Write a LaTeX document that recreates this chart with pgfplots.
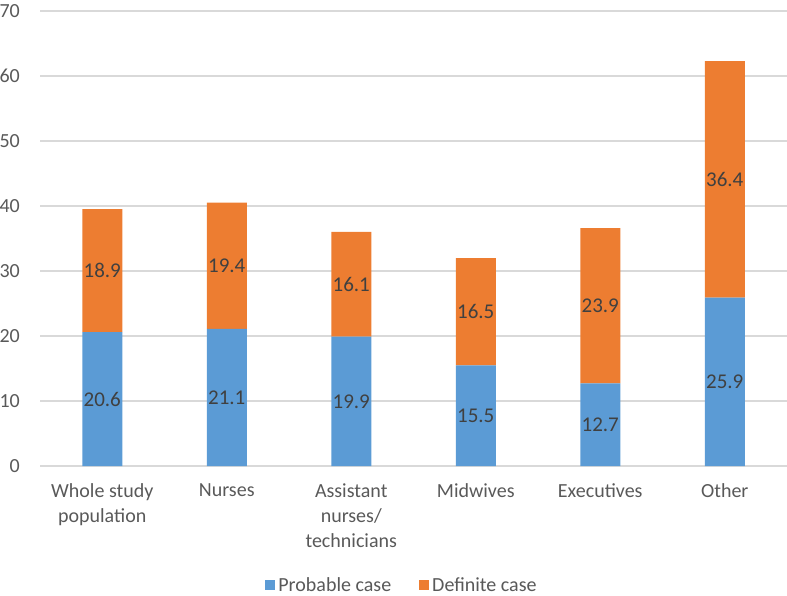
\documentclass[border=0pt]{standalone}
\usepackage{pgfplots}
\pgfplotsset{compat=1.18}
\usepackage{fontspec}
\setmainfont{Carlito}
\definecolor{barblue}{HTML}{5B9BD5}
\definecolor{barorange}{HTML}{ED7D31}
\definecolor{gridgray}{HTML}{D9D9D9}
\definecolor{txtgray}{HTML}{595959}
\definecolor{lblgray}{HTML}{404040}
\begin{document}
\begin{tikzpicture}
\pgfplotsset{
  common/.style={
    scale only axis,
    width=747bp, height=455bp,
    xmin=-0.5, xmax=5.5,
    ymin=0, ymax=70,
  }
}
\begin{axis}[
  common,
  name=ax,
  ybar stacked,
  bar width=40bp,
  ytick={0,10,...,70},
  ymajorgrids,
  grid style={gridgray, line width=1.5bp},
  axis line style={draw=none},
  tick style={draw=none},
  xtick={0,...,5},
  xticklabels={Whole study\\population, Nurses, Assistant\\nurses/\\technicians, Midwives, Executives, Other},
  xticklabel style={align=center, font=\fontsize{20bp}{25bp}\selectfont, text=txtgray, anchor=north, yshift=-14bp},
  yticklabel style={font=\fontsize{20bp}{22bp}\selectfont, text=txtgray, inner sep=0pt, xshift=-20bp},
  /pgf/number format/assume math mode=true,
  legend style={at={(0.4846,-0.2615)}, anchor=center, draw=none, legend columns=2,
    font=\fontsize{20bp}{22bp}\selectfont, text=txtgray, inner sep=0pt,
    /tikz/every even column/.append style={column sep=26bp}},
  legend image code/.code={\fill[#1] (0bp,-5bp) rectangle (10bp,5bp);},
]
\addplot[fill=barblue, draw=none] coordinates {(0,20.6) (1,21.1) (2,19.9) (3,15.5) (4,12.7) (5,25.9)};
\addplot[fill=barorange, draw=none] coordinates {(0,18.9) (1,19.4) (2,16.1) (3,16.5) (4,23.9) (5,36.4)};
\legend{\hspace{1bp}Probable case, \hspace{1bp}Definite case}
\end{axis}
\begin{axis}[
  common,
  hide axis,
]
\addplot[draw=none, mark=none, nodes near coords, point meta=explicit symbolic,
  every node near coord/.append style={anchor=center, text=lblgray, font=\fontsize{21bp}{23bp}\selectfont}]
  coordinates {
  (0,10.3)[20.6] (1,10.55)[21.1] (2,9.95)[19.9] (3,7.75)[15.5] (4,6.35)[12.7] (5,12.95)[25.9]
  (0,30.05)[18.9] (1,30.8)[19.4] (2,27.95)[16.1] (3,23.75)[16.5] (4,24.65)[23.9] (5,44.1)[36.4]
  };
\end{axis}
\pgfresetboundingbox
\path ([xshift=-40bp,yshift=-130bp]ax.south west) rectangle ([yshift=11bp]ax.north east);
\end{tikzpicture}
\end{document}
